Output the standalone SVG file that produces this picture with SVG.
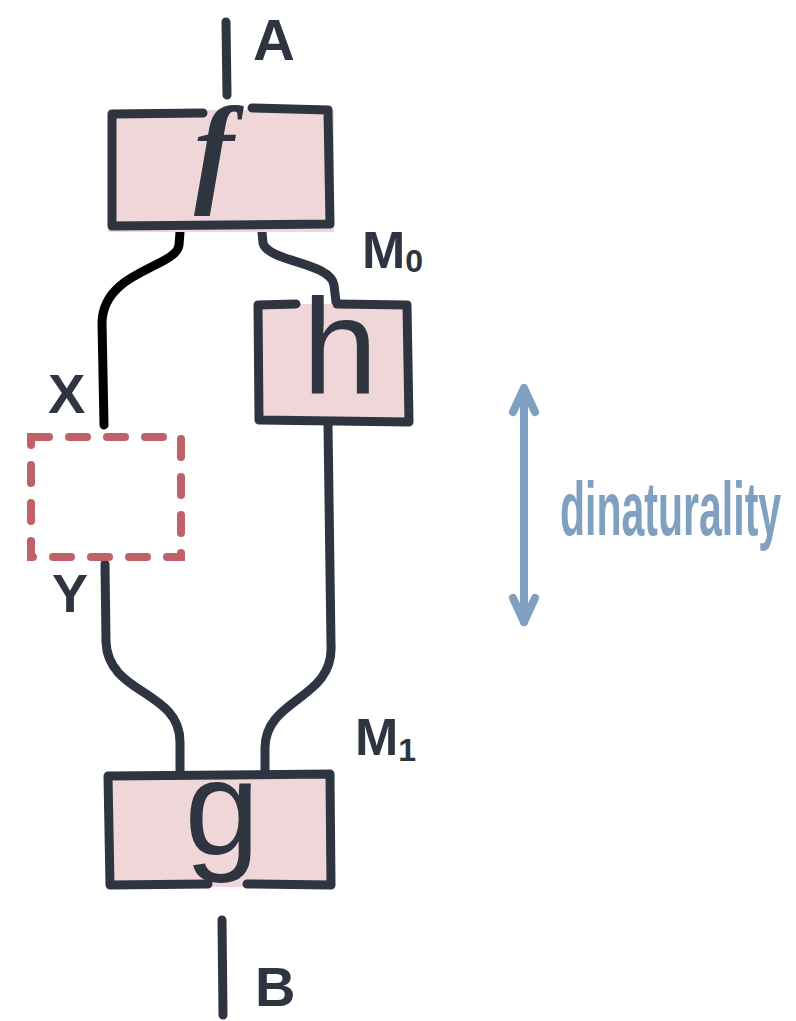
<svg xmlns="http://www.w3.org/2000/svg" width="796" height="1021" viewBox="0 0 796 1021">
<style>
.ink{fill:none;stroke:#2e3440;stroke-width:9;stroke-linecap:round;stroke-linejoin:round}
.box{fill:#eed6d9;stroke:none}
.lbl{font-family:"Liberation Sans",Arial,sans-serif;font-weight:bold;fill:#2e3440}
.big{font-family:"Liberation Sans",Arial,sans-serif;fill:#2e3440}
.blue{fill:none;stroke:#7fa0c0;stroke-width:8;stroke-linecap:round;stroke-linejoin:round}
</style>
<rect width="796" height="1021" fill="#ffffff"/>
<g id="connectors">
<path class="ink" d="M226,22 L227,95"/>
<path d="M180,232 L179,245 C176,268 104,270 102,322 L104,425" fill="none" stroke="#000" stroke-width="9" stroke-linecap="round"/>
<path class="ink" d="M262,232 L263,243 C268,262 330,262 334,285 L336,302"/>
<path class="ink" d="M105,564 L106,642 C108,695 180,690 180,742 L180,772"/>
<path class="ink" d="M328,425 L331,645 C334,700 265,698 265,748 L265,772"/>
<path class="ink" d="M222,920 L223,1015"/>
</g>
<g id="node-f">
<rect class="box" x="108" y="110" width="226" height="122"/>
<path class="ink" d="M203,113 L112,114 L112,226 L330,224 L328,110 L252,108"/>
<text x="214" y="190" font-size="120" text-anchor="middle" fill="#2e3440" font-weight="bold" font-style="italic" font-family="Liberation Serif, serif">f</text>
</g>
<g id="node-h">
<rect class="box" x="258" y="304" width="150" height="116"/>
<path class="ink" d="M296,304 L258,305 L259,420 L409,422 L407,305 L337,304"/>
<text class="big" x="340" y="393" font-size="135" text-anchor="middle">h</text>
</g>
<g id="node-dashed">
<rect x="31" y="437" width="150" height="120" fill="none" stroke="#c0616a" stroke-width="8" stroke-linecap="round" stroke-dasharray="18 20"/>
</g>
<g id="node-g">
<rect class="box" x="108" y="775" width="222" height="112"/>
<path class="ink" d="M208,884 L110,885 L108,776 L330,774 L331,885 L247,884"/>
<text class="big" x="222" y="855" font-size="135" text-anchor="middle">g</text>
</g>
<g id="labels">
<text class="lbl" x="253" y="60" font-size="58">A</text>
<text class="lbl" x="362" y="268" font-size="52">M<tspan font-size="32" dy="4">0</tspan></text>
<text class="lbl" x="48" y="413" font-size="56">X</text>
<text class="lbl" x="52" y="612" font-size="54">Y</text>
<text class="lbl" x="355" y="755" font-size="52">M<tspan font-size="32" dy="6">1</tspan></text>
<text class="lbl" x="255" y="1006" font-size="56">B</text>
</g>
<g id="dinaturality">
<path class="blue" d="M524,390 L524,622"/>
<path class="blue" d="M513,412 L524,388 L535,412"/>
<path class="blue" d="M513,598 L524,622 L535,598"/>
<text transform="translate(560,535) scale(0.54,1)" x="0" y="0" font-family="Liberation Sans, Arial, sans-serif" font-weight="bold" font-size="76" fill="#7fa0c0">dinaturality</text>
</g>
</svg>
